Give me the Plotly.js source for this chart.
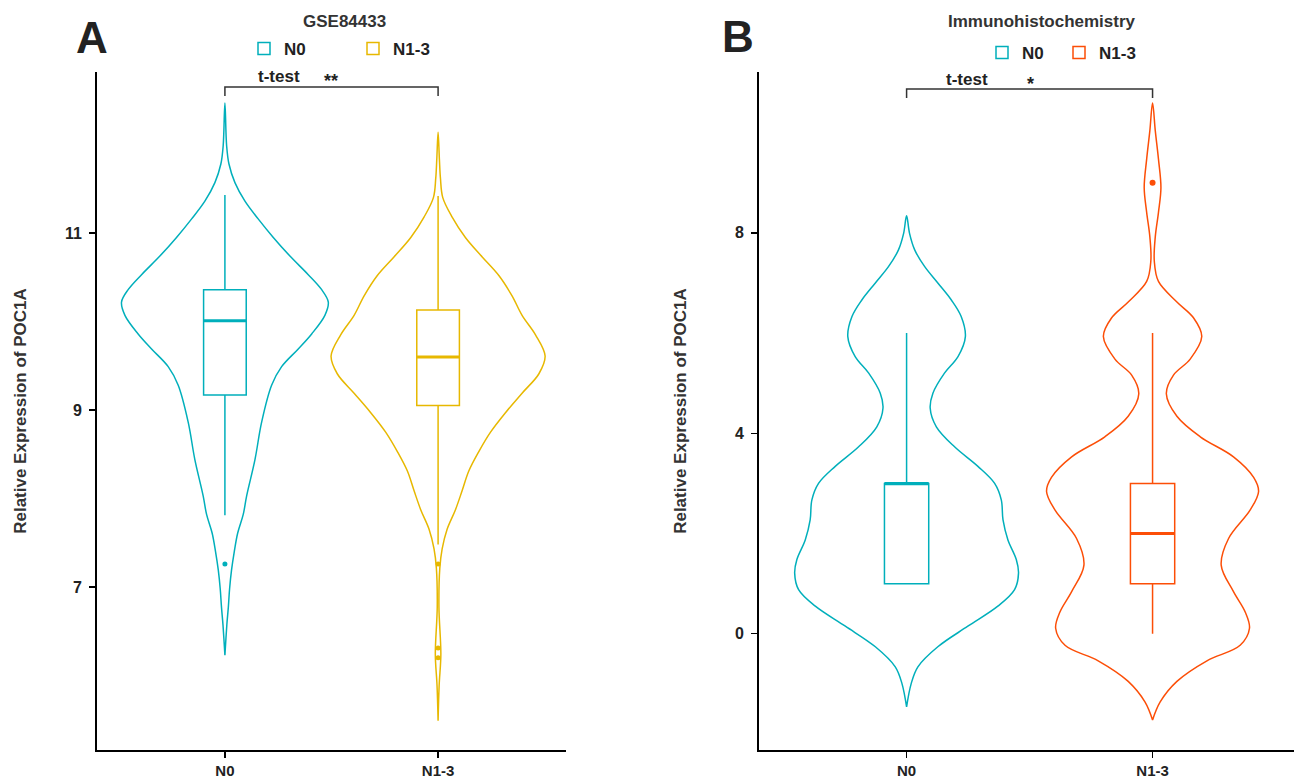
<!DOCTYPE html>
<html><head><meta charset="utf-8">
<script src="https://cdn.plot.ly/plotly-3.0.1.min.js"></script>
<style>html,body{margin:0;padding:0;background:#fff}#chart{width:1294px;height:781px}</style>
</head><body><div id="chart"></div><script>
// ---------- data ----------
const groups = ['N0', 'N1-3'];
const groupPos = [1, 2];

// Panel A: GSE84433 - violin outlines (expression level, half-width of density in category units)
const aN0Y = [12.47, 11.99, 11.78, 11.57, 11.36, 11.16, 10.95, 10.74, 10.53, 10.36, 10.22, 10.07, 9.86, 9.69, 9.49, 9.28, 8.86, 8.44, 8.03, 7.82, 7.61, 7.40, 7.19, 6.98, 6.77, 6.57, 6.23];
const aN0W = [0, 0.008, 0.019, 0.047, 0.094, 0.156, 0.227, 0.305, 0.391, 0.454, 0.485, 0.469, 0.407, 0.344, 0.266, 0.219, 0.172, 0.141, 0.102, 0.086, 0.060, 0.044, 0.031, 0.022, 0.016, 0.009, 0];
const aN13Y = [12.14, 11.84, 11.62, 11.40, 11.18, 10.95, 10.73, 10.52, 10.29, 10.07, 9.85, 9.61, 9.41, 9.19, 8.97, 8.75, 8.53, 8.31, 8.09, 7.87, 7.65, 7.43, 7.21, 6.77, 6.24, 5.89, 5.49];
const aN13W = [0, 0.006, 0.011, 0.022, 0.066, 0.128, 0.207, 0.285, 0.347, 0.394, 0.457, 0.502, 0.473, 0.394, 0.316, 0.246, 0.191, 0.144, 0.113, 0.081, 0.042, 0.019, 0.008, 0.004, 0.013, 0.005, 0];
// Panel A box statistics [N0, N1-3]
const aQ1 = [9.17, 9.05];
const aMedian = [10.01, 9.60];
const aQ3 = [10.36, 10.13];
const aLower = [7.81, 7.48];
const aUpper = [11.43, 11.42];
const aOutGroup = [1, 2, 2, 2];
const aOutY = [7.26, 7.26, 6.31, 6.20];

// Panel B: Immunohistochemistry
const bN0Y = [8.34, 7.99, 7.66, 7.33, 7.00, 6.66, 6.33, 5.93, 5.53, 5.20, 4.80, 4.50, 4.13, 3.73, 3.34, 3.00, 2.67, 2.27, 1.87, 1.48, 1.21, 0.88, 0.55, 0.15, -0.26, -0.66, -0.99, -1.46];
const bN0W = [0, 0.012, 0.033, 0.073, 0.127, 0.182, 0.222, 0.239, 0.209, 0.154, 0.107, 0.096, 0.121, 0.195, 0.290, 0.358, 0.385, 0.392, 0.412, 0.446, 0.455, 0.439, 0.371, 0.249, 0.127, 0.046, 0.019, 0];
const bN13Y = [10.59, 10.04, 9.47, 8.90, 8.41, 7.92, 7.44, 7.03, 6.62, 6.30, 5.93, 5.48, 5.16, 4.79, 4.34, 3.93, 3.53, 3.12, 2.84, 2.47, 1.90, 1.37, 0.84, 0.43, 0.11, -0.23, -0.54, -0.95, -1.36, -1.72];
const bN13W = [0, 0.011, 0.024, 0.034, 0.024, 0.011, 0.007, 0.024, 0.099, 0.167, 0.200, 0.153, 0.085, 0.056, 0.099, 0.194, 0.329, 0.411, 0.431, 0.397, 0.309, 0.279, 0.329, 0.377, 0.394, 0.356, 0.221, 0.099, 0.031, 0];
const bQ1 = [1, 1];
const bMedian = [3, 2];
const bQ3 = [3, 3];
const bLower = [1, 0];
const bUpper = [6, 6];
const bOutGroup = [2];
const bOutY = [9];

// ---------- styles ----------
const colA = ['#00AFBB', '#E7B800'];
const colB = ['#00AFBB', '#FC4E07'];
const FONT = 'Liberation Sans, Arial, Helvetica, sans-serif';
const W = 1294, H = 781;
const px = v => v / W;
const py = v => 1 - v / H;

function violin(pos, ys, ws, color, xa, ya) {
  const x = ws.map(w => pos + w).concat(ws.slice().reverse().map(w => pos - w));
  const y = ys.concat(ys.slice().reverse());
  return {type: 'scatter', mode: 'lines', x: x, y: y, xaxis: xa, yaxis: ya,
    line: {color: color, width: 1.5, shape: 'spline', smoothing: 1}, fill: 'none',
    showlegend: false, hoverinfo: 'skip'};
}
function box(i, q1, med, q3, lo, hi, color, bw, xa, ya, leg) {
  return {type: 'box', name: groups[i], x: [groupPos[i]], q1: [q1[i]], median: [med[i]], q3: [q3[i]],
    lowerfence: [lo[i]], upperfence: [hi[i]], width: bw, whiskerwidth: 0, boxpoints: false,
    line: {color: color, width: 1.5}, fillcolor: 'rgba(255,255,255,0)',
    xaxis: xa, yaxis: ya, legend: leg, showlegend: true};
}
function medianLine(i, med, color, bw, xa, ya) {
  return {type: 'scatter', mode: 'lines', x: [groupPos[i] - bw / 2, groupPos[i] + bw / 2], y: [med[i], med[i]],
    line: {color: color, width: 3}, xaxis: xa, yaxis: ya, showlegend: false, hoverinfo: 'skip'};
}
function outliers(gs, ys, cols, xa, ya, size) {
  return {type: 'scatter', mode: 'markers', x: gs, y: ys, xaxis: xa, yaxis: ya,
    marker: {color: gs.map(g => cols[g - 1]), size: size}, showlegend: false};
}

const bwA = 0.2, bwB = 0.18;
const traces = [
  violin(1, aN0Y, aN0W, colA[0], 'x', 'y'),
  violin(2, aN13Y, aN13W, colA[1], 'x', 'y'),
  box(0, aQ1, aMedian, aQ3, aLower, aUpper, colA[0], bwA, 'x', 'y', 'legend'),
  box(1, aQ1, aMedian, aQ3, aLower, aUpper, colA[1], bwA, 'x', 'y', 'legend'),
  medianLine(0, aMedian, colA[0], bwA, 'x', 'y'),
  medianLine(1, aMedian, colA[1], bwA, 'x', 'y'),
  outliers(aOutGroup, aOutY, colA, 'x', 'y', 5),
  violin(1, bN0Y, bN0W, colB[0], 'x2', 'y2'),
  violin(2, bN13Y, bN13W, colB[1], 'x2', 'y2'),
  box(0, bQ1, bMedian, bQ3, bLower, bUpper, colB[0], bwB, 'x2', 'y2', 'legend2'),
  box(1, bQ1, bMedian, bQ3, bLower, bUpper, colB[1], bwB, 'x2', 'y2', 'legend2'),
  medianLine(0, bMedian, colB[0], bwB, 'x2', 'y2'),
  medianLine(1, bMedian, colB[1], bwB, 'x2', 'y2'),
  outliers(bOutGroup, bOutY, colB, 'x2', 'y2', 6)
];

const yDom = [1 - 750 / H, 1 - 72 / H];
const axisCommon = {showline: true, linecolor: '#000', linewidth: 2, ticks: 'outside', ticklen: 6,
  tickwidth: 1.5, tickcolor: '#000', showgrid: false, zeroline: false, fixedrange: true,
  tickfont: {family: FONT, size: 16, weight: 'bold', color: '#222'}};
const yTitle = (s) => ({text: 'Relative Expression of POC1A', standoff: s,
  font: {family: FONT, size: 17, weight: 'bold', color: '#333'}});
const xTick = {family: FONT, size: 15, weight: 'bold', color: '#222'};

const layout = {
  width: W, height: H, margin: {l: 0, r: 0, t: 0, b: 0},
  paper_bgcolor: '#fff', plot_bgcolor: '#fff',
  font: {family: FONT, color: '#222'},
  hovermode: false,
  xaxis: Object.assign({}, axisCommon, {domain: [97 / W, 566 / W], range: [0.4, 2.6], tickvals: groupPos,
    ticktext: groups, anchor: 'y', ticklabelstandoff: 0, tickfont: xTick}),
  yaxis: Object.assign({}, axisCommon, {domain: yDom, range: [5.158, 12.82], tickvals: [7, 9, 11],
    anchor: 'x', title: yTitle(34), ticklabelstandoff: 4}),
  xaxis2: Object.assign({}, axisCommon, {domain: [759 / W, 1], range: [0.4, 2.575], tickvals: groupPos,
    ticktext: groups, anchor: 'y2', ticklabelstandoff: 0, tickfont: xTick}),
  yaxis2: Object.assign({}, axisCommon, {domain: yDom, range: [-2.32, 11.21], tickvals: [0, 4, 8],
    anchor: 'x2', title: yTitle(44), ticklabelstandoff: 4}),
  legend: {orientation: 'h', x: px(244), y: py(49), xanchor: 'left', yanchor: 'middle',
    font: {family: FONT, size: 17, weight: 'bold', color: '#222'}, entrywidth: 64, entrywidthmode: 'pixels',
    bgcolor: 'rgba(0,0,0,0)', itemclick: false, itemdoubleclick: false},
  legend2: {orientation: 'h', x: px(982), y: py(53), xanchor: 'left', yanchor: 'middle',
    font: {family: FONT, size: 17, weight: 'bold', color: '#222'}, entrywidth: 32, entrywidthmode: 'pixels',
    bgcolor: 'rgba(0,0,0,0)', itemclick: false, itemdoubleclick: false},
  shapes: [
    {type: 'path', xref: 'x', yref: 'y', path: 'M1,12.55 L1,12.65 L2,12.65 L2,12.55', line: {color: '#333', width: 1.5}},
    {type: 'path', xref: 'x2', yref: 'y2', path: 'M1,10.69 L1,10.87 L2,10.87 L2,10.69', line: {color: '#333', width: 1.5}}
  ],
  annotations: [
    {text: 'A', x: px(92), y: py(38), xref: 'paper', yref: 'paper', showarrow: false, xanchor: 'center', yanchor: 'middle',
      font: {family: FONT, size: 44, weight: 'bold', color: '#222'}},
    {text: 'B', x: px(738), y: py(36), xref: 'paper', yref: 'paper', showarrow: false, xanchor: 'center', yanchor: 'middle',
      font: {family: FONT, size: 44, weight: 'bold', color: '#222'}},
    {text: 'GSE84433', x: px(344), y: py(21), xref: 'paper', yref: 'paper', showarrow: false, xanchor: 'center', yanchor: 'middle',
      font: {family: FONT, size: 17, weight: 'bold', color: '#333'}},
    {text: 'Immunohistochemistry', x: px(1042), y: py(22), xref: 'paper', yref: 'paper', showarrow: false, xanchor: 'center', yanchor: 'middle',
      font: {family: FONT, size: 17, weight: 'bold', color: '#333'}},
    {text: 't-test', x: px(279), y: py(77), xref: 'paper', yref: 'paper', showarrow: false, xanchor: 'center', yanchor: 'middle',
      font: {family: FONT, size: 17, weight: 'bold', color: '#222'}},
    {text: '**', x: px(331), y: py(81), xref: 'paper', yref: 'paper', showarrow: false, xanchor: 'center', yanchor: 'middle',
      font: {family: FONT, size: 18, weight: 'bold', color: '#222'}},
    {text: 't-test', x: px(967), y: py(79), xref: 'paper', yref: 'paper', showarrow: false, xanchor: 'center', yanchor: 'middle',
      font: {family: FONT, size: 17, weight: 'bold', color: '#222'}},
    {text: '*', x: px(1030), y: py(84), xref: 'paper', yref: 'paper', showarrow: false, xanchor: 'center', yanchor: 'middle',
      font: {family: FONT, size: 18, weight: 'bold', color: '#222'}}
  ]
};

Plotly.newPlot('chart', traces, layout, {displayModeBar: false, staticPlot: true});
</script></body></html>
